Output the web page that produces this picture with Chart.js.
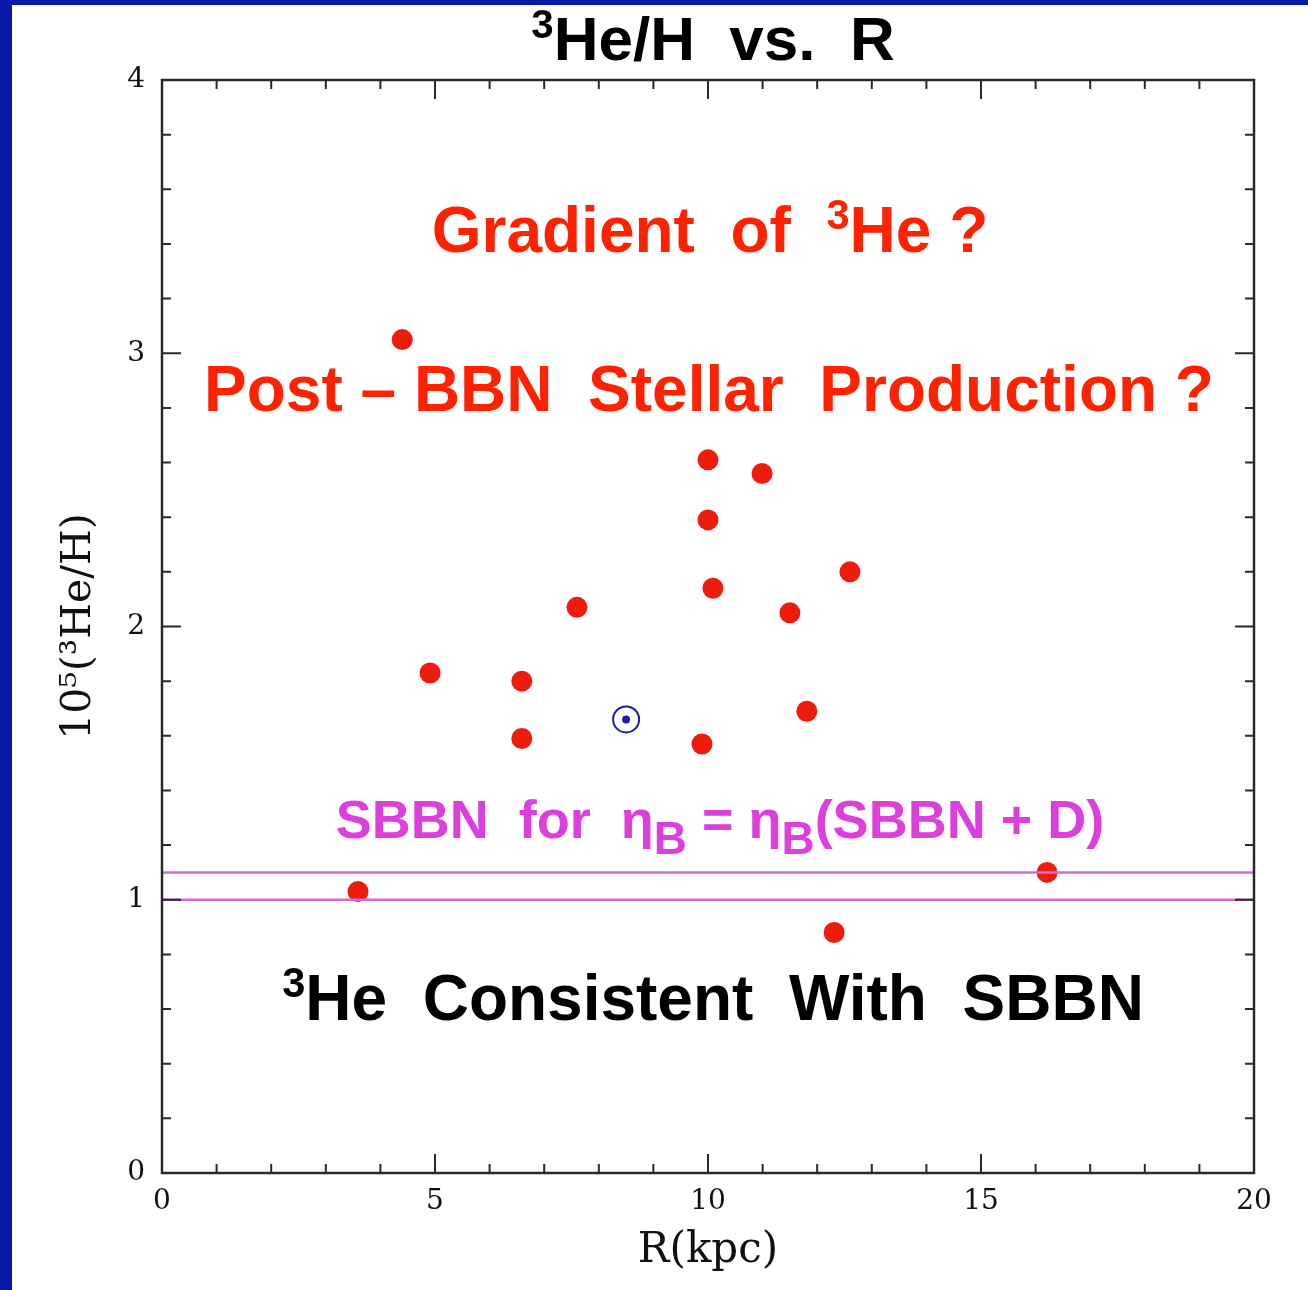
<!DOCTYPE html>
<html>
<head>
<meta charset="utf-8">
<script src="https://cdn.jsdelivr.net/npm/chart.js@4.4.1/dist/chart.umd.min.js"></script>
<style>
  html, body { margin: 0; padding: 0; background: #ffffff; }
  canvas { display: block; }
</style>
</head>
<body>
<canvas id="he3Chart" width="1308" height="1290"></canvas>
<script>
// 数据：银河系 HII 区的 3He/H 与 R(kpc)
const rKpc = [4.40, 4.91, 6.59, 6.59, 7.60, 9.89, 10.0, 10.0, 10.09, 10.99, 11.5, 11.81, 12.6, 3.59, 12.31, 16.21];
const he3H = [3.05, 1.83, 1.80, 1.59, 2.07, 1.57, 2.61, 2.39, 2.14, 2.56, 2.05, 1.69, 2.20, 1.03, 0.88, 1.10];

// 太阳系位置
const sunR = [8.5];
const sunHe3 = [1.66];

// SBBN 预测带
const sbbnLevels = [1.0, 1.1];

// 坐标轴范围与刻度
const xRange = [0, 20];
const yRange = [0, 4];
const xMajorStep = 5, xMinorStep = 1;
const yMajorStep = 1, yMinorStep = 0.2;

const RED = '#ff2200';
const MAGENTA = '#dd3fdd';

function toPoints(xs, ys) {
    return xs.map((x, i) => ({ x: x, y: ys[i] }));
}

// SBBN 水平线
const sbbnDatasets = sbbnLevels.map(level => ({
    type: 'line',
    data: [{ x: xRange[0], y: level }, { x: xRange[1], y: level }],
    borderColor: '#cf6ad6',
    borderWidth: 2.5,
    pointRadius: 0,
    fill: false
}));

// 背景与蓝色边框
const backdropPlugin = {
    id: 'backdrop',
    beforeDraw(chart) {
        const ctx = chart.ctx;
        ctx.save();
        ctx.fillStyle = '#ffffff';
        ctx.fillRect(0, 0, chart.width, chart.height);
        ctx.fillStyle = '#0818a8';
        ctx.fillRect(0, 0, 12, chart.height);
        ctx.fillRect(0, 0, chart.width, 5);
        ctx.restore();
    }
};

// 坐标框和向内的刻度
const framePlugin = {
    id: 'frame',
    afterDraw(chart) {
        const ctx = chart.ctx;
        const xs = chart.scales.x, ys = chart.scales.y;
        const a = chart.chartArea;
        ctx.save();
        ctx.strokeStyle = '#2a2a2a';
        ctx.lineWidth = 2.5;
        ctx.strokeRect(a.left, a.top, a.right - a.left, a.bottom - a.top);
        ctx.lineWidth = 2;
        ctx.beginPath();
        for (let v = xRange[0] + xMinorStep; v < xRange[1] - 1e-6; v += xMinorStep) {
            const px = xs.getPixelForValue(v);
            const major = Math.abs(v / xMajorStep - Math.round(v / xMajorStep)) < 1e-6;
            const len = major ? 19 : 9;
            ctx.moveTo(px, a.bottom); ctx.lineTo(px, a.bottom - len);
            ctx.moveTo(px, a.top); ctx.lineTo(px, a.top + len);
        }
        for (let v = yRange[0] + yMinorStep; v < yRange[1] - 1e-6; v += yMinorStep) {
            const py = ys.getPixelForValue(v);
            const major = Math.abs(v / yMajorStep - Math.round(v / yMajorStep)) < 1e-6;
            const len = major ? 19 : 9;
            ctx.moveTo(a.left, py); ctx.lineTo(a.left + len, py);
            ctx.moveTo(a.right, py); ctx.lineTo(a.right - len, py);
        }
        ctx.stroke();
        ctx.restore();
    }
};

// 带上下标的文字
function drawRich(ctx, parts, cx, baseline, size, color) {
    const pieces = parts.map(p => {
        const s = size * (p.scale || 1);
        const font = `bold ${s}px "Liberation Sans", Arial, sans-serif`;
        ctx.font = font;
        return { text: p.t, font: font, w: ctx.measureText(p.t).width, dy: (p.dy || 0) * size };
    });
    const total = pieces.reduce((s, p) => s + p.w, 0);
    let x = cx - total / 2;
    ctx.fillStyle = color;
    ctx.textBaseline = 'alphabetic';
    ctx.textAlign = 'left';
    pieces.forEach(p => {
        ctx.font = p.font;
        ctx.fillText(p.text, x, baseline + p.dy);
        x += p.w;
    });
}

const textPlugin = {
    id: 'annotations',
    afterDraw(chart) {
        const ctx = chart.ctx;
        ctx.save();
        drawRich(ctx, [{ t: '3', scale: 0.65, dy: -0.36 }, { t: 'He/H  vs.  R' }], 713, 60, 62, '#000000');
        drawRich(ctx, [{ t: 'Gradient  of  ' }, { t: '3', scale: 0.65, dy: -0.36 }, { t: 'He ?' }], 710, 252, 64, RED);
        drawRich(ctx, [{ t: 'Post \u2013 BBN  Stellar  Production ?' }], 709, 411, 64, RED);
        drawRich(ctx, [
            { t: 'SBBN  for  \u03B7' }, { t: 'B', scale: 0.85, dy: 0.3 },
            { t: ' = \u03B7' }, { t: 'B', scale: 0.85, dy: 0.3 },
            { t: '(SBBN + D)' }
        ], 720, 838, 54, MAGENTA);
        drawRich(ctx, [{ t: '3', scale: 0.65, dy: -0.36 }, { t: 'He  Consistent  With  SBBN' }], 713, 1020, 64, '#000000');
        ctx.restore();
    }
};

const serif = '"DejaVu Serif", "Liberation Serif", serif';

const config = {
    type: 'scatter',
    data: {
        datasets: [
            ...sbbnDatasets,
            {
                data: toPoints(rKpc, he3H),
                backgroundColor: '#ee1c0c',
                borderWidth: 0,
                pointRadius: 10.5,
                pointHoverRadius: 10.5
            },
            {
                data: toPoints(sunR, sunHe3),
                backgroundColor: 'rgba(0,0,0,0)',
                borderColor: '#1c1ca8',
                borderWidth: 2,
                pointRadius: 13
            },
            {
                data: toPoints(sunR, sunHe3),
                backgroundColor: '#1c1ca8',
                borderWidth: 0,
                pointRadius: 4
            }
        ]
    },
    options: {
        responsive: false,
        animation: false,
        devicePixelRatio: 1,
        layout: { padding: { top: 80, right: 54, left: 0, bottom: 0 } },
        plugins: {
            legend: { display: false },
            tooltip: { enabled: false },
            title: { display: false }
        },
        scales: {
            x: {
                type: 'linear',
                min: xRange[0],
                max: xRange[1],
                grid: { display: false, drawTicks: false },
                border: { display: false },
                ticks: {
                    stepSize: xMajorStep,
                    padding: 12,
                    maxRotation: 0,
                    color: '#111111',
                    font: { family: serif, size: 28 }
                },
                title: {
                    display: true,
                    text: 'R(kpc)',
                    color: '#111111',
                    font: { family: serif, size: 42 },
                    padding: { top: 0, bottom: 14 }
                },
                afterFit(scale) { scale.height = 117; }
            },
            y: {
                type: 'linear',
                min: yRange[0],
                max: yRange[1],
                grid: { display: false, drawTicks: false },
                border: { display: false },
                ticks: {
                    stepSize: yMajorStep,
                    padding: 17,
                    color: '#111111',
                    font: { family: serif, size: 28 }
                },
                title: {
                    display: true,
                    text: '10\u2075(\u00B3He/H)',
                    color: '#111111',
                    font: { family: serif, size: 41 },
                    padding: { top: 55, bottom: 0 }
                },
                afterFit(scale) { scale.width = 162; }
            }
        }
    },
    plugins: [backdropPlugin, framePlugin, textPlugin]
};

const he3Chart = new Chart(document.getElementById('he3Chart'), config);
</script>
</body>
</html>
